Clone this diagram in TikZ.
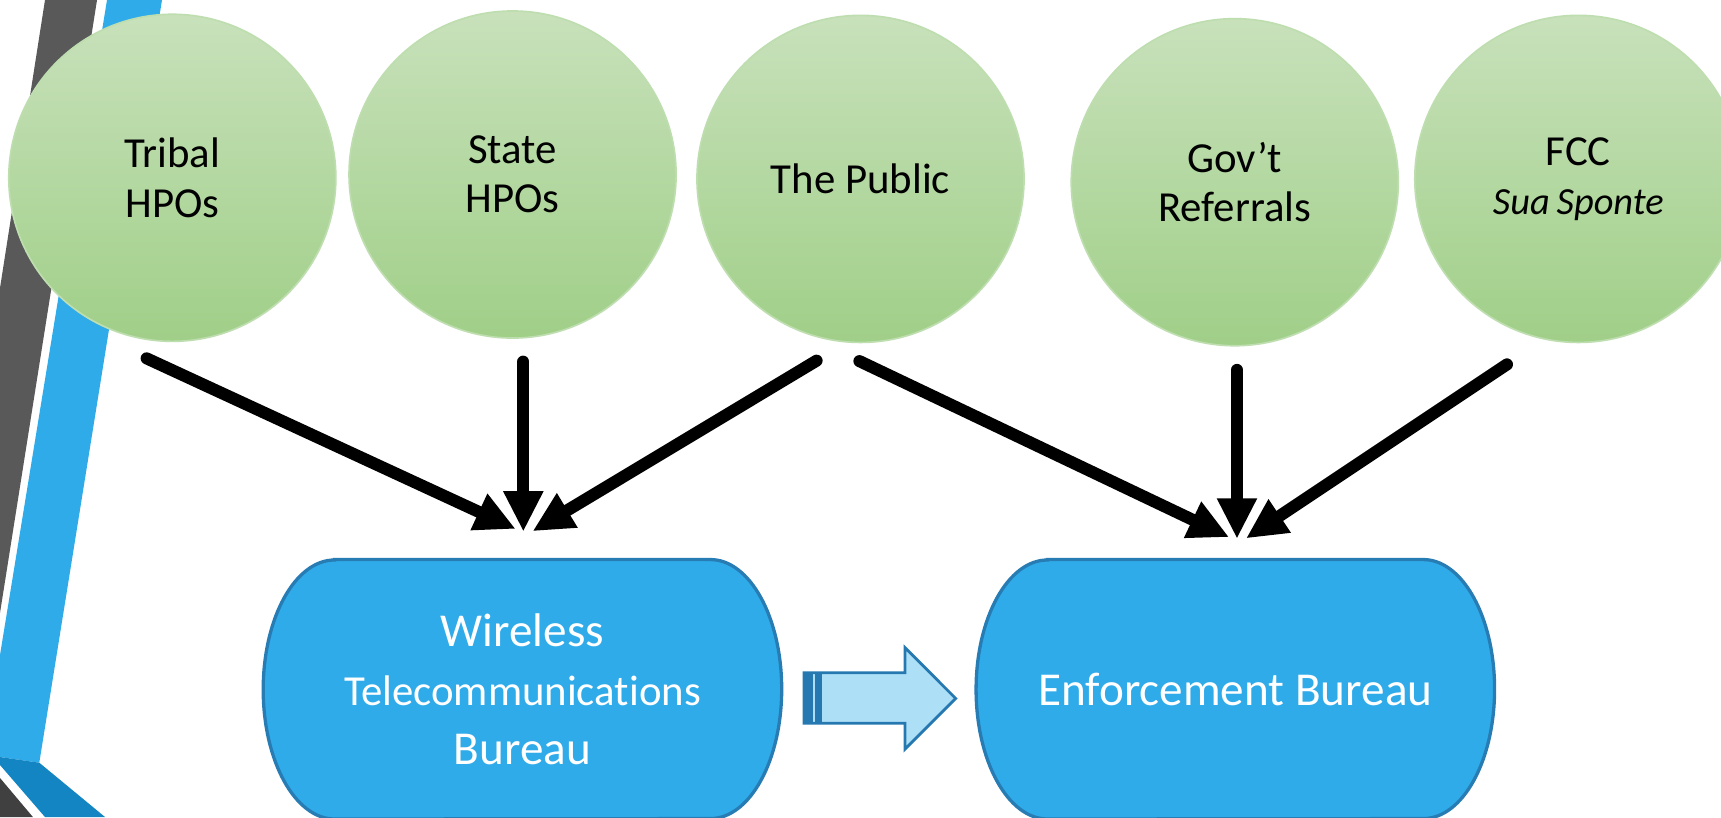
\documentclass[tikz,border=0pt]{standalone}
\usepackage{fontspec}
\setmainfont{Carlito}[Ligatures=CommonOff]
\usetikzlibrary{arrows.meta,calc}
\definecolor{gtop}{RGB}{200,225,187}
\definecolor{gbot}{RGB}{160,207,136}
\definecolor{gline}{RGB}{190,222,176}
\definecolor{bfill}{RGB}{48,171,234}
\definecolor{bline}{RGB}{40,124,180}
\definecolor{afill}{RGB}{173,223,247}
\definecolor{aline}{RGB}{38,121,176}
\definecolor{band}{RGB}{89,89,89}
\definecolor{banddark}{RGB}{64,64,64}
\definecolor{bluedeep}{RGB}{18,133,194}
\pgfdeclarelayer{bg}
\pgfsetlayers{bg,main}
\begin{document}
\begin{tikzpicture}[x=1pt,y=-1pt,
  circ/.style={circle, minimum size=298pt, inner sep=0pt, draw=gline, line width=1.5pt,
    top color=gtop, bottom color=gbot, align=center, text=black,
    font=\fontsize{39}{45}\selectfont},
  boxtext/.style={minimum width=472pt, minimum height=236pt, inner sep=0pt,
    text=white, align=center, font=\fontsize{43}{54}\selectfont},
  boxshape/.style={fill=bfill, draw=bline, line width=3pt},
  blackarrow/.style={line width=11pt, line cap=round,
    -{Triangle[length=36pt,width=37pt,line width=0pt]}},
  blockarrow/.style={fill=afill, draw=aline, line width=2.5pt, line join=miter}
]
\useasboundingbox (0,0) rectangle (1568,744.4);
\begin{pgfonlayer}{bg}
  \fill[white] (0,0) rectangle (1568,744.4);
\end{pgfonlayer}

% left decoration bands
\fill[band] (41,0) -- (88.4,0) -- (0,558.5) -- (0,262.4) -- cycle;
\fill[bfill] (97.5,0) -- (147.6,0) -- (35.8,694.9) -- (0,689.7) -- (0,596.8) -- cycle;
\fill[bluedeep] (0,689.7) -- (35.8,694.9) -- (95.7,744.4) -- (41,744.4) -- (0,697) -- cycle;
\fill[banddark] (0,708.8) -- (30,744.4) -- (0,744.4) -- cycle;

% source circles
\node[circ] (tribal) at (157,162) {Tribal\\HPOs};
\node[circ] (state)  at (467,159) {State\\HPOs};
\node[circ] (public) at (784,163) {The Public};
\node[circ] (govt)   at (1125,166) {Gov’t\\Referrals};
\node[circ] (fcc)    at (1438,163) {FCC\\{\fontsize{35}{45}\selectfont\itshape Sua\hspace{0.18em}Sponte}};

% bureau boxes
\node[boxtext] (wtb) at (476,628) {Wireless\\{\fontsize{39}{54}\selectfont Telecommunications}\\Bureau};
\node[boxtext] (eb) at (1125.5,628) {Enforcement Bureau};
\begin{pgfonlayer}{bg}
  \foreach \b in {wtb,eb}{
    \draw[boxshape] ([xshift=65pt]\b.north west) -- ([xshift=-65pt]\b.north east)
      arc[start angle=90,end angle=-90,x radius=65pt,y radius=118pt]
      -- ([xshift=65pt]\b.south west)
      arc[start angle=270,end angle=90,x radius=65pt,y radius=118pt] -- cycle;
  }
\end{pgfonlayer}

% connector end points
\coordinate (tribalOut) at (133.6,326.5);
\coordinate (stateOut)  at (476.8,329.5);
\coordinate (publicOutA) at (744,328.6);
\coordinate (publicOutB) at (783,329);
\coordinate (govtOut)   at (1127,337);
\coordinate (fccOut)    at (1373,332);
\coordinate (wtbInA) at (469,481.5);
\coordinate (wtbInB) at (476.8,483.5);
\coordinate (wtbInC) at (486,483.5);
\coordinate (ebInA) at (1119,489);
\coordinate (ebInB) at (1127,490);
\coordinate (ebInC) at (1136,490);

\draw[blackarrow] (tribalOut) -- (wtbInA);
\draw[blackarrow] (stateOut) -- (wtbInB);
\draw[blackarrow] (publicOutA) -- (wtbInC);
\draw[blackarrow] (publicOutB) -- (ebInA);
\draw[blackarrow] (govtOut) -- (ebInB);
\draw[blackarrow] (fccOut) -- (ebInC);

% striped block arrow from WTB to EB
\draw[blockarrow] (732.5,613) -- (824.5,613) -- (824.5,590) -- (870.7,636.3)
  -- (824.5,682.6) -- (824.5,659) -- (732.5,659) -- cycle;
\fill[aline] (732.5,613) rectangle (740.4,659);
\fill[aline] (742.8,613) rectangle (748.6,659);
\end{tikzpicture}
\end{document}
